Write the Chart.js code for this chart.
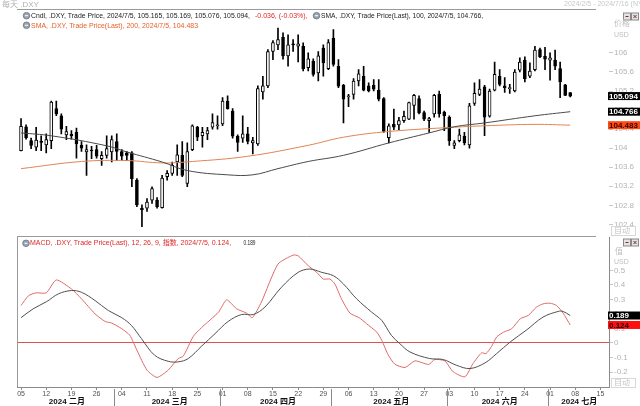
<!DOCTYPE html>
<html>
<head>
<meta charset="utf-8">
<script src="https://cdn.jsdelivr.net/npm/chart.js@4.4.1/dist/chart.umd.min.js"></script>
<style>
  html, body { margin: 0; padding: 0; background: #fff; overflow: hidden; }
  #wrap { position: relative; width: 640px; height: 406px; }
  canvas { position: absolute; left: 0; }
  #priceChart { top: 0; }
  #macdChart { top: 232px; }
</style>
</head>
<body>
<div id="wrap">
  <canvas id="priceChart" width="640" height="236"></canvas>
  <canvas id="macdChart" width="640" height="174"></canvas>
</div>
<script>
// 每天 .DXY 2024/2/5 - 2024/7/5，x = 交易日序號 (0 = 2/5)
const opens = [103.95, 104.45, 104.16, 104.02, 104.15, 104.07, 104.16, 104.83, 104.68, 104.28,
  104.29, 104.33, 104.06, 103.92, 103.95, 103.97, 103.78, 103.85, 103.92, 104.14,
  103.93, 103.90, 103.90, 103.33, 102.74, 102.74, 102.91, 102.91, 102.75, 103.40,
  103.47, 103.71, 103.85, 103.26, 103.97, 104.44, 104.26, 104.30, 104.44, 104.47,
  104.51, 104.99, 104.78, 104.25, 104.21, 104.30, 104.11, 104.09, 105.18, 105.31,
  106.03, 106.17, 106.33, 105.94, 106.19, 106.14, 106.14, 105.69, 105.83, 105.58,
  106.10, 105.67, 106.31, 105.72, 105.32, 105.08, 105.13, 105.41, 105.51, 105.31,
  105.32, 105.22, 105.04, 104.22, 104.50, 104.49, 104.58, 104.61, 104.90, 105.04,
  104.75, 104.58, 104.72, 105.13, 104.76, 104.65, 104.06, 104.16, 104.25, 104.07,
  104.94, 105.13, 105.29, 104.67, 105.22, 105.51, 105.31, 105.25, 105.20, 105.64,
  105.85, 105.51, 105.65, 106.07, 105.93, 105.85, 105.85, 105.67, 105.33, 105.165];
const highs = [104.62, 104.49, 104.21, 104.44, 104.26, 104.30, 104.99, 104.99, 104.72, 104.46,
  104.37, 104.42, 104.14, 104.07, 104.04, 104.06, 103.93, 104.26, 104.26, 104.30,
  103.97, 103.93, 103.93, 103.36, 102.81, 102.94, 103.19, 102.96, 103.43, 103.53,
  103.71, 104.07, 104.14, 104.11, 104.49, 104.46, 104.44, 104.44, 104.72, 104.68,
  105.06, 105.10, 104.83, 104.28, 104.68, 104.44, 104.23, 105.31, 105.51, 106.07,
  106.26, 106.52, 106.42, 106.38, 106.28, 106.38, 106.21, 106.00, 105.875, 106.03,
  106.17, 106.28, 106.49, 105.86, 105.34, 105.13, 105.46, 105.65, 105.72, 105.37,
  105.44, 105.44, 105.06, 104.51, 104.82, 104.65, 104.78, 104.97, 105.13, 105.10,
  104.78, 104.65, 105.13, 105.20, 104.78, 104.68, 104.16, 104.40, 104.33, 104.94,
  105.37, 105.44, 105.32, 105.24, 105.81, 105.65, 105.48, 105.34, 105.65, 105.90,
  105.92, 105.79, 106.14, 106.10, 106.12, 106.00, 106.06, 105.81, 105.34, 105.169];
const lows = [103.94, 104.19, 103.99, 103.95, 103.95, 103.90, 103.99, 104.68, 104.30, 104.18,
  104.19, 103.79, 103.93, 103.43, 103.78, 103.79, 103.64, 103.79, 103.71, 103.74,
  103.74, 103.74, 103.19, 102.77, 102.35, 102.67, 102.84, 102.74, 102.74, 103.33,
  103.43, 103.43, 103.40, 103.19, 103.95, 104.16, 104.02, 104.18, 104.40, 104.40,
  104.47, 104.82, 104.21, 103.93, 104.12, 104.09, 103.88, 104.06, 105.03, 105.27,
  105.86, 106.07, 105.87, 105.72, 106.03, 105.81, 105.62, 105.62, 105.51, 105.41,
  105.51, 105.65, 105.72, 105.27, 104.53, 104.87, 105.03, 105.31, 105.20, 105.18,
  105.20, 104.99, 104.33, 104.11, 104.39, 104.39, 104.54, 104.60, 104.61, 104.72,
  104.58, 104.33, 104.65, 104.65, 104.37, 104.06, 103.99, 104.13, 104.07, 104.00,
  104.90, 105.10, 104.26, 104.65, 105.20, 105.31, 105.17, 105.15, 105.18, 105.60,
  105.39, 105.48, 105.62, 105.90, 105.65, 105.43, 105.65, 105.06, 105.10, 105.076];
const closes = [104.46, 104.22, 104.06, 104.17, 104.12, 104.18, 104.97, 104.72, 104.40, 104.35,
  104.26, 104.09, 104.00, 103.97, 103.94, 103.83, 103.85, 103.99, 104.18, 103.93,
  103.83, 103.85, 103.36, 102.81, 102.71, 102.87, 103.15, 102.77, 103.37, 103.47,
  103.64, 103.86, 103.43, 103.93, 104.47, 104.23, 104.33, 104.37, 104.54, 104.48,
  104.99, 104.83, 104.25, 104.12, 104.30, 104.14, 104.16, 105.25, 105.31, 106.03,
  106.22, 106.28, 105.94, 106.17, 106.17, 106.19, 105.67, 105.875, 105.55, 105.94,
  105.79, 106.22, 105.76, 105.30, 105.03, 105.09, 105.41, 105.56, 105.22, 105.20,
  105.24, 105.03, 104.35, 104.47, 104.44, 104.58, 104.67, 104.96, 105.11, 104.74,
  104.61, 104.62, 105.11, 104.72, 104.68, 104.16, 104.11, 104.28, 104.11, 104.89,
  105.15, 105.24, 104.65, 105.20, 105.55, 105.34, 105.27, 105.27, 105.60, 105.81,
  105.46, 105.62, 106.06, 105.92, 105.87, 105.90, 105.72, 105.39, 105.11, 105.094];

// SMA 100 / 200（讀圖取點）
const sma100Days = [0, 6, 17, 21, 28, 33, 41, 46, 51, 57, 64, 73, 81, 86, 92, 102, 109];
const sma100Vals = [104.32, 104.26, 104.05, 103.92, 103.71, 103.53, 103.44, 103.44, 103.57, 103.72,
  103.85, 104.11, 104.32, 104.45, 104.53, 104.68, 104.766];
const sma200Days = [0, 12, 21, 28, 34, 45, 57, 64, 73, 86, 92, 102, 109];
const sma200Vals = [103.57, 103.72, 103.74, 103.69, 103.72, 103.83, 104.06, 104.23, 104.35, 104.44,
  104.47, 104.50, 104.483];

// MACD 12,26,9
const macdDays = [0, 1.5, 3, 5, 7, 10, 12, 14.7, 16.7, 18, 20, 21.6, 23, 25, 27, 29.2, 31.2, 32.2,
  34.2, 35.8, 39.2, 40.8, 42.8, 44.8, 45.9, 47.7, 51, 54, 55, 57, 58.7, 60, 61.3, 62.3, 63.6,
  65.3, 67.1, 68.6, 70.6, 71.6, 72.9, 74.2, 76.2, 78.2, 80.9, 82.1, 84.1, 85.8, 88.1, 89.7,
  91.4, 92.3, 93.4, 94.4, 95.8, 97.4, 99.1, 100.7, 102.3, 103.6, 105, 106.3, 107.6, 109];
const macdVals = [0.258, 0.326, 0.345, 0.345, 0.434, 0.372, 0.304, 0.20, 0.148, 0.137, 0.098,
  0.053, -0.05, -0.187, -0.237, -0.187, -0.107, -0.091, 0.046, 0.105, 0.212, 0.297, 0.235,
  0.205, 0.174, 0.281, 0.543, 0.605, 0.60, 0.532, 0.486, 0.44, 0.44, 0.406, 0.304, 0.205,
  0.174, 0.132, 0.075, 0.018, -0.084, -0.146, -0.169, -0.123, -0.148, -0.114, -0.123, -0.199,
  -0.233, -0.142, -0.068, -0.073, -0.023, 0.041, 0.075, 0.098, 0.167, 0.19, 0.247, 0.269,
  0.274, 0.258, 0.205, 0.124];
const signalDays = [0, 2.4, 5.1, 7.4, 10, 12, 14.7, 17.3, 20, 21.9, 23.9, 26.5, 29.2, 31.2, 33.2,
  35.8, 38.5, 41.1, 43.8, 46.1, 48.4, 51.7, 55, 57.3, 59.7, 62, 64, 66.6, 69.6, 71.6, 73.5,
  75.2, 77.2, 81.1, 83.8, 86.4, 89.1, 92.1, 94.4, 97.1, 100.4, 103.6, 106.6, 107.6, 109];
const signalVals = [0.174, 0.235, 0.285, 0.338, 0.361, 0.349, 0.292, 0.224, 0.174, 0.121, 0.03,
  -0.084, -0.126, -0.13, -0.107, -0.023, 0.064, 0.148, 0.196, 0.196, 0.247, 0.384, 0.486,
  0.509, 0.486, 0.463, 0.406, 0.304, 0.212, 0.155, 0.053, -0.005, -0.062, -0.107, -0.114,
  -0.153, -0.176, -0.137, -0.073, 0.007, 0.091, 0.178, 0.217, 0.217, 0.189];

// 軸標籤
const priceTicks = [102.4, 102.8, 103.2, 103.6, 104, 104.4, 104.8, 105.2, 105.6, 106];
const macdTicks = [-0.2, -0.1, 0, 0.1, 0.2, 0.3, 0.4, 0.5];
const dayTickPos = [0, 5, 10, 15, 20, 25, 30, 35, 40, 45, 50, 55, 60, 65, 70, 75, 80, 85, 90, 95,
  100, 105, 110, 115];
const dayTickLabels = ['05', '12', '19', '26', '04', '11', '18', '25', '01', '08', '15', '22', '29',
  '06', '13', '20', '27', '03', '10', '17', '24', '01', '08', '15'];
const monthLabels = ['2024 二月', '2024 三月', '2024 四月', '2024 五月', '2024 六月', '2024 七月'];
const monthCenters = [9.1, 29.5, 51, 73.5, 95, 110.8];
const monthStarts = [19, 40, 62, 85, 105];

const xMin = -0.8;
const xMax = 116.7;
const FONT = '"Liberation Sans", "Noto Sans CJK SC", sans-serif';
Chart.defaults.font.family = FONT;

function pts(days, vals) {
  return days.map((d, i) => ({ x: d, y: vals[i] }));
}

function drawText(ctx, text, x, y, color, size, maxW, weight) {
  ctx.font = (weight || '') + ' ' + size + 'px ' + FONT;
  ctx.fillStyle = color;
  ctx.textAlign = 'left';
  ctx.textBaseline = 'middle';
  if (maxW) ctx.fillText(text, x, y, maxW);
  else ctx.fillText(text, x, y);
}

function drawIcon(ctx, x, y) {
  ctx.beginPath();
  ctx.arc(x, y, 3.3, 0, Math.PI * 2);
  ctx.fillStyle = '#9aa4b0';
  ctx.fill();
  ctx.strokeStyle = '#6a7480';
  ctx.lineWidth = 0.8;
  ctx.stroke();
  ctx.fillStyle = '#ffffff';
  ctx.fillRect(x - 1.5, y - 0.5, 3, 1);
}

function drawValueBox(ctx, y, text, bg, fg) {
  ctx.fillStyle = bg;
  ctx.fillRect(608, y - 4, 32, 8);
  ctx.font = 'bold 8px ' + FONT;
  ctx.fillStyle = fg;
  ctx.textAlign = 'left';
  ctx.textBaseline = 'middle';
  ctx.fillText(text, 609, y + 0.5, 30);
}

function drawButtons(ctx, y) {
  ctx.strokeStyle = '#8a8a8a';
  ctx.lineWidth = 1;
  ctx.fillStyle = '#e4e4e4';
  ctx.fillRect(623.5, y, 7, 7);
  ctx.strokeRect(623.5, y, 7, 7);
  ctx.fillRect(631.5, y, 7, 7);
  ctx.strokeRect(631.5, y, 7, 7);
  ctx.beginPath();
  ctx.moveTo(625.5, y + 3.5); ctx.lineTo(628.5, y + 3.5);
  ctx.moveTo(633.5, y + 2); ctx.lineTo(636.5, y + 5);
  ctx.moveTo(636.5, y + 2); ctx.lineTo(633.5, y + 5);
  ctx.strokeStyle = '#7a3030';
  ctx.stroke();
}

function drawAuto(ctx, y) {
  ctx.fillStyle = '#ffffff';
  ctx.fillRect(611.5, y - 4.5, 24, 9);
  ctx.strokeStyle = '#d8d8d8';
  ctx.lineWidth = 1;
  ctx.strokeRect(611.5, y - 4.5, 24, 9);
  drawText(ctx, '自动', 614, y, '#c4c4c4', 8);
}

const priceDecor = {
  id: 'priceDecor',
  afterDraw(chart) {
    const ctx = chart.ctx;
    const y = chart.scales.y;
    ctx.save();
    // 頂部文字與框線
    drawText(ctx, '每天 .DXY', 2, 5, '#b0b0b0', 8);
    drawText(ctx, '2024/2/5 - 2024/7/16 (NYC)', 564, 4, '#c8c8c8', 7);
    ctx.strokeStyle = '#9a9a9a';
    ctx.lineWidth = 1;
    ctx.beginPath();
    ctx.moveTo(17, 9.5); ctx.lineTo(596, 9.5);
    ctx.stroke();
    // 圖例
    drawIcon(ctx, 26.5, 15.7);
    drawText(ctx, 'Cndl, .DXY, Trade Price, 2024/7/5, 105.165, 105.169, 105.076, 105.094,', 31, 16, '#1a1a1a', 7, 219);
    drawText(ctx, '-0.036, (-0.03%),', 255, 16, '#e02828', 7, 56);
    drawIcon(ctx, 316.5, 15.7);
    drawText(ctx, 'SMA, .DXY, Trade Price(Last), 100, 2024/7/5, 104.766,', 321, 16, '#1a1a1a', 7, 162);
    drawIcon(ctx, 26.5, 25.3);
    drawText(ctx, 'SMA, .DXY, Trade Price(Last), 200, 2024/7/5, 104.483', 31, 25.6, '#e8602a', 7, 167);
    // 價格軸
    drawButtons(ctx, 13);
    drawText(ctx, '价格', 614, 24, '#c0c0c0', 8);
    drawText(ctx, 'USD', 614, 35, '#c0c0c0', 7);
    drawAuto(ctx, 231);
    drawValueBox(ctx, y.getPixelForValue(closes[closes.length - 1]), closes[closes.length - 1].toFixed(3), '#000000', '#ffffff');
    drawValueBox(ctx, y.getPixelForValue(sma100Vals[sma100Vals.length - 1]), sma100Vals[sma100Vals.length - 1].toFixed(3), '#000000', '#ffffff');
    drawValueBox(ctx, y.getPixelForValue(sma200Vals[sma200Vals.length - 1]), sma200Vals[sma200Vals.length - 1].toFixed(3), '#ff4a12', '#3a0000');
    ctx.restore();
  }
};

const macdDecor = {
  id: 'macdDecor',
  afterDraw(chart) {
    const ctx = chart.ctx;
    const y = chart.scales.y;
    const x = chart.scales.x;
    const area = chart.chartArea;
    ctx.save();
    ctx.strokeStyle = '#9a9a9a';
    ctx.lineWidth = 1;
    ctx.beginPath();
    ctx.moveTo(17, 4.5); ctx.lineTo(596, 4.5);
    ctx.moveTo(17.5, 4.5); ctx.lineTo(17.5, area.bottom);
    ctx.stroke();
    // 月份分隔
    ctx.strokeStyle = '#8a8a8a';
    ctx.beginPath();
    monthStarts.forEach((d) => {
      const px = Math.round(x.getPixelForValue(d - 0.5)) + 0.5;
      ctx.moveTo(px, area.bottom + 2); ctx.lineTo(px, 174);
    });
    ctx.stroke();
    // 圖例
    drawIcon(ctx, 26, 11.3);
    drawText(ctx, 'MACD, .DXY, Trade Price(Last), 12, 26, 9, 指数, 2024/7/5, 0.124,', 30, 11.5, '#e02828', 7, 212);
    drawText(ctx, '0.189', 243.5, 11.5, '#1a1a1a', 7, 12);
    // 數值軸
    drawButtons(ctx, 7);
    drawText(ctx, '值', 615, 20, '#c0c0c0', 8);
    drawText(ctx, 'USD', 614, 30, '#c0c0c0', 7);
    drawAuto(ctx, 151);
    drawValueBox(ctx, y.getPixelForValue(signalVals[signalVals.length - 1]), signalVals[signalVals.length - 1].toFixed(3), '#000000', '#ffffff');
    drawValueBox(ctx, y.getPixelForValue(macdVals[macdVals.length - 1]), macdVals[macdVals.length - 1].toFixed(3), '#ff1010', '#200000');
    ctx.restore();
  }
};

const candleIdx = opens.map((_, i) => i);
const bodyData = candleIdx.map((i) => ({ x: i, y: [opens[i], closes[i]] }));
const wickData = candleIdx.map((i) => ({ x: i, y: [lows[i], highs[i]] }));
const bodyFill = candleIdx.map((i) => (closes[i] >= opens[i] ? '#ffffff' : '#000000'));

const axisTickFont = { size: 8, family: FONT };

new Chart(document.getElementById('priceChart'), {
  type: 'bar',
  data: {
    datasets: [
      {
        type: 'line',
        data: pts(sma100Days, sma100Vals),
        borderColor: '#4a4a4a',
        borderWidth: 1,
        pointRadius: 0,
        tension: 0.4,
        order: 0,
      },
      {
        type: 'line',
        data: pts(sma200Days, sma200Vals),
        borderColor: '#e08550',
        borderWidth: 1,
        pointRadius: 0,
        tension: 0.4,
        order: 0,
      },
      {
        data: bodyData,
        backgroundColor: bodyFill,
        borderColor: '#000000',
        borderWidth: 1,
        borderSkipped: false,
        barThickness: 3,
        minBarLength: 1,
        grouped: false,
        order: 1,
      },
      {
        data: wickData,
        backgroundColor: '#000000',
        barThickness: 1,
        minBarLength: 1,
        grouped: false,
        order: 2,
      },
    ],
  },
  options: {
    responsive: false,
    animation: false,
    layout: { padding: { left: 17, top: 9, right: 0, bottom: 4 } },
    plugins: { legend: { display: false }, tooltip: { enabled: false } },
    scales: {
      x: { type: 'linear', min: xMin, max: xMax, display: false, offset: false },
      y: {
        position: 'right',
        min: 102.277,
        max: 106.923,
        afterBuildTicks: (s) => { s.ticks = priceTicks.map((v) => ({ value: v })); },
        afterFit: (s) => { s.width = 31; },
        border: { display: false },
        grid: { drawOnChartArea: false, tickLength: 4, tickColor: '#c8c8c8' },
        ticks: {
          color: '#b4b4b4',
          font: axisTickFont,
          padding: 1,
          callback: (v) => String(+Number(v).toFixed(1)),
        },
      },
    },
  },
  plugins: [priceDecor],
});

new Chart(document.getElementById('macdChart'), {
  type: 'line',
  data: {
    datasets: [
      {
        data: pts(signalDays, signalVals),
        borderColor: '#505050',
        borderWidth: 1,
        pointRadius: 0,
        tension: 0.35,
      },
      {
        data: pts(macdDays, macdVals),
        borderColor: '#e06868',
        borderWidth: 1,
        pointRadius: 0,
        tension: 0.2,
      },
    ],
  },
  options: {
    responsive: false,
    animation: false,
    layout: { padding: { left: 17, top: 5, right: 0, bottom: 0 } },
    plugins: { legend: { display: false }, tooltip: { enabled: false } },
    scales: {
      x: {
        type: 'linear',
        position: 'bottom',
        weight: 0,
        min: xMin,
        max: xMax,
        afterBuildTicks: (s) => { s.ticks = dayTickPos.map((v) => ({ value: v })); },
        afterFit: (s) => { s.height = 10; },
        border: { color: '#8a8a8a' },
        grid: { drawOnChartArea: false, tickLength: 3, tickColor: '#8a8a8a' },
        ticks: {
          color: '#505050',
          font: { size: 7, family: FONT },
          padding: 0,
          maxRotation: 0,
          autoSkip: false,
          callback: (v, idx) => dayTickLabels[idx],
        },
      },
      x2: {
        type: 'linear',
        position: 'bottom',
        weight: 1,
        min: xMin,
        max: xMax,
        afterBuildTicks: (s) => { s.ticks = monthCenters.map((v) => ({ value: v })); },
        afterFit: (s) => { s.height = 9; },
        border: { display: false },
        grid: { display: false, drawTicks: false, tickLength: 0 },
        ticks: {
          color: '#111111',
          font: { size: 8, weight: 'bold', family: FONT },
          padding: 0,
          maxRotation: 0,
          autoSkip: false,
          callback: (v, idx) => monthLabels[idx],
        },
      },
      y: {
        position: 'right',
        min: -0.303,
        max: 0.724,
        afterBuildTicks: (s) => { s.ticks = macdTicks.map((v) => ({ value: v })); },
        afterFit: (s) => { s.width = 31; },
        border: { color: '#8a8a8a' },
        grid: {
          color: (c) => (c.tick && c.tick.value === 0 ? '#e05050' : 'rgba(0,0,0,0)'),
          tickLength: 4,
          tickColor: '#c8c8c8',
        },
        ticks: {
          color: '#b4b4b4',
          font: axisTickFont,
          padding: 1,
          callback: (v) => String(+Number(v).toFixed(1)),
        },
      },
    },
  },
  plugins: [macdDecor],
});
</script>
</body>
</html>
